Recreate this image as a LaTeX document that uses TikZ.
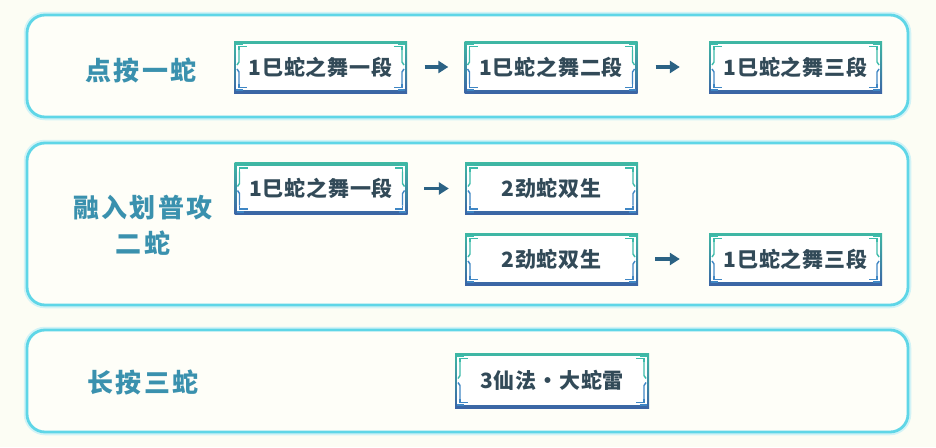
\documentclass[tikz,border=0pt]{standalone}
\usepackage{fontspec}
\usetikzlibrary{calc,arrows.meta}
\newfontfamily\boxcjk[LetterSpace=4]{Noto Sans CJK SC}
\newfontfamily\labcjk[LetterSpace=8]{Noto Sans CJK SC}
\definecolor{bgc}{HTML}{FCFDF4}
\definecolor{panelfill}{HTML}{FEFEF8}
\definecolor{panelline}{HTML}{5FD6E7}
\definecolor{panelglow}{HTML}{D2F3F6}
\definecolor{btop}{HTML}{3FB8A4}
\definecolor{bbot}{HTML}{3B64A5}
\definecolor{bltop}{HTML}{3DBBAA}
\definecolor{blbot}{HTML}{3F86C4}
\definecolor{boxtxt}{HTML}{324A58}
\definecolor{labc}{HTML}{3A91AE}
\definecolor{arrc}{HTML}{2B6284}
\tikzset{
  panel/.style={rounded corners=18pt},
  obox/.style={minimum width=173pt, minimum height=52pt, inner sep=0pt,
    top color=btop, bottom color=bbot, text=boxtxt,
    font=\boxcjk\bfseries\fontsize{21}{23}\selectfont,
    path picture={
      \path (path picture bounding box.north west) coordinate (NW)
            (path picture bounding box.south east) coordinate (SE)
            (path picture bounding box.north east) coordinate (NE)
            (path picture bounding box.south west) coordinate (SW)
            (path picture bounding box.west) coordinate (W)
            (path picture bounding box.east) coordinate (E);
      \fill[white] ($(NW)+(2.2pt,-3.2pt)$) rectangle ($(SE)+(-2.2pt,3.2pt)$);
      % side brackets
      \draw[bltop, line width=1.4pt]
        ($(NW)+(5pt,-9pt)$) -- ($(W)+(5pt,5pt)$) -- ($(W)+(3pt,2pt)$);
      \draw[blbot, line width=1.4pt]
        ($(W)+(3pt,-2pt)$) -- ($(W)+(5pt,-5pt)$) -- ($(SW)+(5pt,9pt)$);
      \draw[bltop, line width=1.4pt]
        ($(NE)+(-5pt,-9pt)$) -- ($(E)+(-5pt,5pt)$) -- ($(E)+(-3pt,2pt)$);
      \draw[blbot, line width=1.4pt]
        ($(E)+(-3pt,-2pt)$) -- ($(E)+(-5pt,-5pt)$) -- ($(SE)+(-5pt,9pt)$);
      % corner brackets
      \draw[bltop, line width=1.4pt]
        ($(NW)+(5pt,-9pt)$) -- ($(NW)+(5pt,-5.5pt)$) -- ($(NW)+(13pt,-5.5pt)$);
      \draw[bltop, line width=1.4pt]
        ($(NE)+(-5pt,-9pt)$) -- ($(NE)+(-5pt,-5.5pt)$) -- ($(NE)+(-13pt,-5.5pt)$);
      \draw[blbot, line width=1.4pt]
        ($(SW)+(5pt,9pt)$) -- ($(SW)+(5pt,5.5pt)$) -- ($(SW)+(13pt,5.5pt)$);
      \draw[blbot, line width=1.4pt]
        ($(SE)+(-5pt,9pt)$) -- ($(SE)+(-5pt,5.5pt)$) -- ($(SE)+(-13pt,5.5pt)$);
      \fill[bltop] ($(NW)+(2pt,-2pt)$) rectangle ($(NW)+(9pt,-3.8pt)$);
      \fill[bltop] ($(NE)+(-2pt,-2pt)$) rectangle ($(NE)+(-9pt,-3.8pt)$);
      \fill[blbot] ($(SW)+(2pt,2pt)$) rectangle ($(SW)+(9pt,3.8pt)$);
      \fill[blbot] ($(SE)+(-2pt,2pt)$) rectangle ($(SE)+(-9pt,3.8pt)$);
    }},
  lab/.style={text=labc, font=\labcjk\bfseries\fontsize{26}{36}\selectfont, align=center},
  arr/.style={draw=arrc, line width=3.2pt, -{Triangle[length=10pt,width=12pt]}}
}
\begin{document}
\begin{tikzpicture}[x=1pt,y=-1pt]
\useasboundingbox (0,0) rectangle (936,447);
\fill[bgc] (0,0) rectangle (936,447);
% panels
\foreach \ya/\yb in {15/117, 143/305, 330/432}{
  \draw[panel, panelglow, line width=6.5pt] (27,\ya) rectangle (908,\yb);
  \filldraw[panel, fill=panelfill, draw=panelline, line width=2.8pt] (27,\ya) rectangle (908,\yb);
}
% labels
\node[lab] (l1) at (141,70) {点按一蛇};
\node[lab] (l2) at (143,225) {融入划普攻\\二蛇};
\node[lab] (l3) at (143,382) {长按三蛇};
% row 1
\node[obox] (b11) at (320.5,67) {1巳蛇之舞一段};
\node[obox] (b12) at (551,67) {1巳蛇之舞二段};
\node[obox] (b13) at (795.5,67) {1巳蛇之舞三段};
% row 2
\node[obox] (b21) at (321,188.5) {1巳蛇之舞一段};
\node[obox] (b22) at (551.5,188.5) {2劲蛇双生};
\node[obox] (b23) at (551.5,259) {2劲蛇双生};
\node[obox] (b24) at (795.5,259) {1巳蛇之舞三段};
% row 3
\node[obox, minimum width=194pt, minimum height=55pt] (b31) at (552,380.5) {3仙法·大蛇雷};
% arrows
\draw[arr, shorten <=17.5pt, shorten >=16pt] (b11) -- (b12);
\draw[arr, shorten <=18pt, shorten >=29pt] (b12) -- (b13);
\draw[arr, shorten <=16.5pt, shorten >=16pt] (b21) -- (b22);
\draw[arr, shorten <=17pt, shorten >=29pt] (b23) -- (b24);
\end{tikzpicture}
\end{document}
